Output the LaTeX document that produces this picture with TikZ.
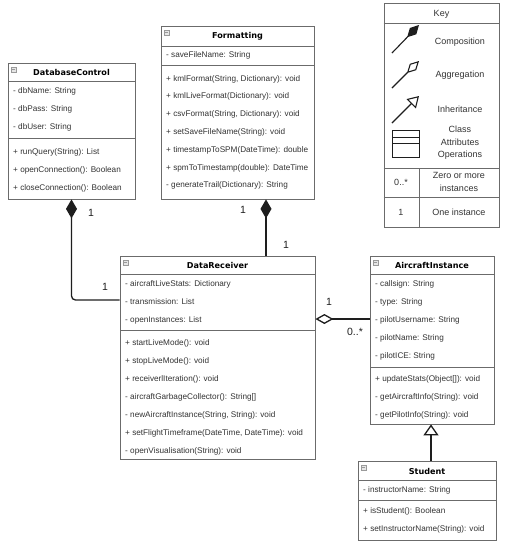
\documentclass[tikz,border=0pt]{standalone}
\usepackage{fontspec}
\setmainfont{Liberation Sans}
\newfontfamily\headfont{DejaVu Sans}
\usepackage{tikz}
\usetikzlibrary{arrows.meta, fit}
\definecolor{umlline}{HTML}{1e1e1e}
\definecolor{umlbox}{HTML}{6b6b6b}
\definecolor{umltext}{HTML}{333333}
\definecolor{umlicon}{HTML}{9a9a9a}

\begin{document}
\begin{tikzpicture}[x=1pt,y=-1pt,
  cls/.style={draw=umlbox, line width=0.8pt, inner sep=0pt, fill=white},
  hdr/.style={font=\headfont\bfseries\fontsize{8.1}{10}\selectfont, text=black, inner sep=0pt},
  mem/.style={anchor=west, inner sep=0pt, font=\fontsize{8.2}{10}\selectfont, text=umltext},
  sepl/.style={draw=umlbox, line width=0.8pt},
  ico/.style={draw=umlicon, line width=0.5pt},
  mult/.style={inner sep=0pt, font=\fontsize{10.5}{12}\selectfont, text=umlline},
  keytxt/.style={inner sep=0pt, align=center, font=\fontsize{9}{12.5}\selectfont, text=umltext},
  compo/.style={draw=umlline, line width=1.3pt, -{Diamond[length=19pt,width=11pt]}},
  aggr/.style={draw=umlline, line width=1.3pt, -{Diamond[length=18pt,width=10pt,fill=white]}},
  inher/.style={draw=umlline, line width=1.3pt, -{Triangle[length=11pt,width=15pt,fill=white]}}]
\useasboundingbox (0,0) rectangle (506,550);

\node[cls,fit={(8,63) (135,199)}](dbc){};
\node[cls,fit={(161,26) (314,199)}](fmt){};
\node[cls,fit={(120,256) (315,459)}](drx){};
\node[cls,fit={(370,256) (494,424)}](acf){};
\node[cls,fit={(358,461) (496,540)}](stu){};

\node[hdr](dbc-t) at (dbc.north |- 0,72){DatabaseControl};
\node[hdr](fmt-t) at (fmt.north |- 0,36){Formatting};
\node[hdr](drx-t) at (drx.north |- 0,265){DataReceiver};
\node[hdr](acf-t) at (acf.north |- 0,265){AircraftInstance};
\node[hdr](stu-t) at (stu.north |- 0,471){Student};

\foreach \x/\y in {8/63,161/26,120/256,370/256,358/461}{
  \draw[ico,fill=umlicon!25](\x+3,\y+4) rectangle +(5,5);
  \draw[ico](\x+4,\y+6.5) -- +(3,0);}

\foreach \a/\b/\y in {8/135/81,8/135/138,161/314/46,161/314/65,120/315/274,120/315/330,
  370/494/274,370/494/367,358/496/480,358/496/500}{
  \draw[sepl](\a,\y) -- (\b,\y);}

\foreach \m [count=\i from 0] in {{- dbName: String},{- dbPass: String},{- dbUser: String}}
  \node[mem](dbc-a\i) at (13,{91+18*\i}){\m};
\foreach \m [count=\i from 0] in {{+ runQuery(String): List},{+ openConnection(): Boolean},
  {+ closeConnection(): Boolean}}
  \node[mem](dbc-o\i) at (13,{152+18*\i}){\m};

\node[mem](fmt-a0) at (166,55){- saveFileName: String};
\foreach \m [count=\i from 0] in {{+ kmlFormat(String, Dictionary): void},{+ kmlLiveFormat(Dictionary): void},
  {+ csvFormat(String, Dictionary): void},{+ setSaveFileName(String): void},{+ timestampToSPM(DateTime): double},
  {+ spmToTimestamp(double): DateTime},{- generateTrail(Dictionary): String}}
  \node[mem](fmt-o\i) at (166,{79+17.8*\i}){\m};

\foreach \m [count=\i from 0] in {{- aircraftLiveStats: Dictionary},{- transmission: List},{- openInstances: List}}
  \node[mem](drx-a\i) at (125,{284+18*\i}){\m};
\foreach \m [count=\i from 0] in {{+ startLiveMode(): void},{+ stopLiveMode(): void},{+ receiverlIteration(): void},
  {- aircraftGarbageCollector(): String[]},{- newAircraftInstance(String, String): void},
  {+ setFlightTimeframe(DateTime, DateTime): void},{- openVisualisation(String): void}}
  \node[mem](drx-o\i) at (125,{343+18*\i}){\m};

\foreach \m [count=\i from 0] in {{- callsign: String},{- type: String},{- pilotUsername: String},
  {- pilotName: String},{- pilotICE: String}}
  \node[mem](acf-a\i) at (375,{284+18.1*\i}){\m};
\foreach \m [count=\i from 0] in {{+ updateStats(Object[]): void},{- getAircraftInfo(String): void},
  {- getPilotInfo(String): void}}
  \node[mem](acf-o\i) at (375,{379+18*\i}){\m};

\node[mem](stu-a0) at (363,490){- instructorName: String};
\foreach \m [count=\i from 0] in {{+ isStudent(): Boolean},{+ setInstructorName(String): void}}
  \node[mem](stu-o\i) at (363,{511+18.5*\i}){\m};

\draw[compo,rounded corners=4pt](drx.west |- 0,300) -| (dbc.south);
\draw[compo](drx.north -| 266,0) -- (fmt.south -| 266,0);
\draw[aggr](acf.west |- 0,319) -- (drx.east |- 0,319);
\draw[inher](stu.north -| 431,0) -- (acf.south -| 431,0);

\node[mult](m1) at (91,213){1};
\node[mult](m2) at (105,287){1};
\node[mult](m3) at (243,210){1};
\node[mult](m4) at (286,245){1};
\node[mult](m5) at (329,302){1};
\node[mult](m6) at (355,332){0..*};

\node[cls,fit={(384,3) (499,227)}](key){};
\draw[sepl](key.west |- 0,23) -- (key.east |- 0,23) (key.west |- 0,168) -- (key.east |- 0,168)
  (key.west |- 0,197) -- (key.east |- 0,197) (419,168) -- (key.south -| 419,0);
\node[keytxt](k-t) at (key.north |- 0,14){Key};
\draw[umlline,line width=1.1pt,-{Diamond[length=17pt,width=9pt]}](392,53) -- (419,25);
\draw[umlline,line width=1.1pt,-{Diamond[length=17pt,width=9pt,fill=white]}](392,88) -- (419,61);
\draw[umlline,line width=1.1pt,-{Triangle[length=11pt,width=13pt,fill=white]}](392,123) -- (419,96);
\draw[umlline,line width=0.7pt](392,130) rectangle (419,157) (392,137) -- (419,137) (392,143) -- (419,143);
\node[keytxt](k-comp) at (460,42){Composition};
\node[keytxt](k-aggr) at (460,75){Aggregation};
\node[keytxt](k-inh) at (460,109){Inheritance};
\node[keytxt](k-cls) at (460,143){Class\\Attributes\\Operations};
\node[keytxt](k-many) at (401,182){0..*};
\node[keytxt](k-manyt) at (459,182){Zero or more\\instances};
\node[keytxt](k-one) at (401,212){1};
\node[keytxt](k-onet) at (459,212){One instance};

\end{tikzpicture}
\end{document}
